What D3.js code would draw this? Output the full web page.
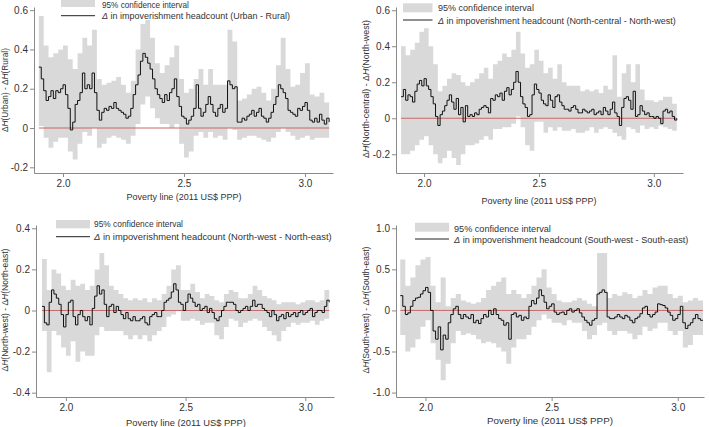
<!DOCTYPE html>
<html><head><meta charset="utf-8">
<script src="https://cdn.jsdelivr.net/npm/d3@7"></script>
<style>
body{margin:0;background:#fff}
text{font-family:"Liberation Sans",Arial,Helvetica,sans-serif}
</style>
</head><body>
<svg id="c" width="709" height="427"></svg>
<script>
// ---- data ----
const lineX = d3.range(121).map(i => +(1.90 + i * 0.01).toFixed(2));
const bandX = d3.range(61).map(i => +(1.90 + i * 0.02).toFixed(2));
const xTicks = [2.0, 2.5, 3.0];
const yTicksA = [-0.2, 0, 0.2, 0.4, 0.6];
const yTicksB = [-0.4, -0.2, 0, 0.2, 0.4];
const yTicksC = [-1.0, -0.5, 0, 0.5, 1.0];

const diffUR = [0.31,0.25,0.19,0.14,0.16,0.19,0.15,0.19,0.18,0.20,
0.22,0.17,0.10,-0.01,0.03,0.12,0.14,0.18,0.28,0.20,
0.22,0.20,0.28,0.18,0.09,0.04,0.08,0.10,0.09,0.11,
0.10,0.13,0.10,0.09,0.08,0.07,0.05,0.06,0.10,0.17,
0.22,0.27,0.34,0.38,0.36,0.33,0.30,0.25,0.20,0.17,
0.15,0.13,0.17,0.14,0.18,0.20,0.25,0.16,0.11,0.06,
0.05,0.02,0.04,0.06,0.10,0.22,0.10,0.06,0.08,0.12,
0.16,0.12,0.08,0.06,0.10,0.12,0.08,0.10,0.24,0.22,
0.20,0.21,0.03,0.03,0.05,0.04,0.06,0.07,0.09,0.06,
0.08,0.10,0.06,0.05,0.03,0.05,0.08,0.12,0.16,0.22,
0.20,0.18,0.15,0.09,0.08,0.07,0.06,0.10,0.09,0.11,
0.13,0.09,0.04,0.03,0.05,0.03,0.07,0.04,0.02,0.05,
0.03];
const hiUR = [0.57,0.42,0.36,0.38,0.40,0.42,0.35,0.30,0.38,0.46,
0.42,0.50,0.25,0.22,0.23,0.24,0.26,0.22,0.18,0.24,
0.40,0.53,0.55,0.46,0.33,0.28,0.32,0.36,0.42,0.25,
0.18,0.20,0.25,0.30,0.22,0.30,0.22,0.22,0.22,0.50,
0.44,0.14,0.15,0.17,0.20,0.21,0.18,0.14,0.20,0.32,
0.46,0.30,0.21,0.22,0.28,0.33,0.17,0.16,0.18,0.13,
0.12];
const loUR = [0.01,-0.05,-0.10,-0.07,-0.05,-0.05,-0.12,-0.16,-0.08,-0.02,
-0.04,0.00,-0.10,-0.08,-0.05,-0.04,-0.05,-0.06,-0.08,-0.04,
0.02,0.12,0.16,0.10,0.05,0.02,0.02,0.00,0.02,-0.08,
-0.15,-0.12,-0.04,-0.02,-0.05,-0.02,-0.05,-0.04,-0.06,0.00,
-0.01,-0.06,-0.05,-0.04,-0.04,-0.05,-0.06,-0.07,-0.05,-0.02,
0.00,-0.02,-0.04,-0.06,-0.05,-0.04,-0.06,-0.05,-0.05,-0.05,
-0.04];

const diffNC = [0.12,0.16,0.10,0.13,0.12,0.09,0.15,0.19,0.21,0.18,
0.22,0.18,0.16,0.12,0.08,0.01,-0.04,0.02,0.04,0.07,
0.10,0.13,0.09,0.05,0.11,0.02,0.06,-0.02,0.07,0.01,
0.02,0.01,0.03,0.02,0.05,0.06,0.07,0.06,0.03,0.11,
0.10,0.13,0.12,0.14,0.10,0.15,0.17,0.13,0.16,0.20,
0.26,0.20,0.12,0.08,0.06,0.01,0.02,0.13,0.19,0.16,
0.14,0.10,0.08,0.07,0.13,0.10,0.06,0.12,0.13,0.09,
0.07,0.05,0.05,0.04,0.06,0.07,0.05,0.03,0.03,0.05,
0.04,0.03,0.04,0.05,0.02,0.03,0.04,0.02,0.06,0.04,
0.02,0.05,0.09,0.03,0.01,-0.04,0.06,0.11,0.12,0.10,
0.05,0.15,0.01,0.02,0.07,0.04,0.02,0.03,0.01,0.01,
0.00,0.01,0.00,-0.03,0.04,0.05,0.03,0.04,0.01,-0.01,
0.00];
const hiNC = [0.40,0.35,0.38,0.42,0.48,0.50,0.40,0.30,0.15,0.18,
0.22,0.25,0.24,0.20,0.18,0.20,0.22,0.25,0.28,0.22,
0.30,0.32,0.36,0.34,0.38,0.48,0.36,0.28,0.30,0.38,
0.32,0.25,0.28,0.22,0.30,0.20,0.18,0.18,0.18,0.15,
0.16,0.15,0.16,0.14,0.18,0.16,0.35,0.12,0.25,0.30,
0.20,0.30,0.16,0.10,0.10,0.09,0.10,0.12,0.12,0.08,
0.07];
const loNC = [-0.20,-0.20,-0.18,-0.15,-0.12,-0.10,-0.15,-0.20,-0.25,-0.22,
-0.18,-0.22,-0.26,-0.20,-0.15,-0.15,-0.14,-0.12,-0.10,-0.12,
-0.06,-0.06,-0.05,-0.05,-0.03,0.01,-0.05,-0.15,-0.18,-0.02,
-0.02,-0.08,-0.05,-0.07,-0.05,-0.07,-0.07,-0.06,-0.08,-0.08,
-0.07,-0.05,-0.08,-0.06,-0.05,-0.06,-0.08,-0.10,-0.12,-0.05,
-0.06,-0.08,-0.04,-0.06,-0.05,-0.06,-0.04,-0.05,-0.06,-0.07,
-0.08];

const diffNW = [0.02,-0.06,-0.07,0.04,0.10,0.08,0.06,0.03,-0.02,-0.08,
-0.02,0.04,0.05,-0.03,-0.07,-0.02,0.00,-0.03,-0.05,-0.03,
-0.07,0.01,0.07,0.12,0.08,0.10,0.03,-0.03,0.02,0.03,
-0.01,0.02,0.00,-0.02,-0.04,-0.01,-0.04,-0.05,-0.03,-0.05,
-0.05,-0.04,-0.03,-0.06,-0.07,-0.03,-0.02,-0.01,-0.03,-0.03,
0.00,0.04,0.05,0.06,0.09,0.13,0.10,0.04,0.03,0.00,
0.04,0.08,0.06,0.04,0.02,0.03,0.00,0.01,0.02,-0.01,
0.01,-0.01,-0.04,-0.05,-0.03,0.00,0.02,0.04,0.04,0.04,
0.03,0.00,-0.01,0.00,0.01,0.02,0.00,0.02,0.05,0.02,
0.03,0.03,0.01,0.00,-0.01,-0.03,0.00,-0.02,-0.05,-0.03,
-0.02,-0.04,-0.01,-0.03,-0.02,-0.01,-0.03,-0.01,0.00,-0.02,
-0.01,0.00,0.01,-0.03,-0.01,0.00,0.00,-0.01,0.02,0.05,
0.04];
const hiNW = [0.25,0.10,0.20,0.18,0.12,0.10,0.15,0.12,0.13,0.10,
0.12,0.20,0.28,0.22,0.12,0.10,0.08,0.06,0.05,0.06,
0.05,0.06,0.04,0.06,0.05,0.08,0.12,0.20,0.22,0.10,
0.10,0.13,0.09,0.06,0.08,0.07,0.05,0.04,0.08,0.10,
0.09,0.06,0.06,0.08,0.12,0.10,0.07,0.06,0.05,0.03,
0.04,0.04,0.04,0.03,0.04,0.05,0.05,0.04,0.05,0.10,
0.08];
const loNW = [-0.10,-0.30,-0.10,-0.12,-0.18,-0.22,-0.15,-0.25,-0.20,-0.22,
-0.22,-0.12,-0.08,-0.10,-0.10,-0.10,-0.10,-0.12,-0.14,-0.12,
-0.14,-0.12,-0.15,-0.12,-0.10,-0.08,-0.03,-0.02,0.00,-0.05,
-0.05,-0.04,-0.05,-0.07,-0.06,-0.06,-0.12,-0.14,-0.08,-0.04,
-0.05,-0.08,-0.06,-0.05,-0.04,-0.05,-0.08,-0.10,-0.12,-0.15,
-0.10,-0.08,-0.06,-0.07,-0.06,-0.06,-0.05,-0.07,-0.05,-0.04,
-0.02];

const diffSW = [0.18,0.05,-0.05,-0.03,0.05,0.12,0.15,0.16,0.20,0.24,
0.28,0.22,0.00,-0.25,-0.35,-0.20,-0.48,-0.30,-0.35,-0.15,
-0.05,0.02,0.05,-0.05,-0.10,-0.05,-0.08,-0.10,-0.05,-0.15,
-0.12,-0.16,-0.10,-0.05,-0.08,0.00,-0.05,0.02,-0.05,-0.10,
-0.12,-0.18,-0.15,-0.35,-0.05,-0.03,-0.08,-0.06,-0.12,-0.08,
-0.10,0.05,0.12,0.08,0.15,0.25,0.18,0.10,0.02,0.05,
0.08,-0.02,-0.05,-0.03,-0.02,-0.05,0.00,0.02,-0.02,0.00,
0.02,-0.03,-0.08,-0.12,-0.15,-0.18,-0.12,-0.10,0.20,0.22,
0.25,0.22,-0.08,-0.10,-0.10,-0.08,-0.05,-0.08,-0.10,-0.06,
-0.08,-0.12,-0.15,-0.10,-0.08,-0.04,0.03,0.05,-0.05,-0.08,
-0.05,-0.02,0.08,0.07,0.06,0.03,-0.02,-0.06,-0.12,-0.10,
-0.05,0.05,-0.15,-0.22,-0.18,-0.15,-0.10,-0.05,-0.10,-0.12,
-0.12];
const hiSW = [0.62,0.30,0.40,0.55,0.62,0.65,0.30,0.10,0.40,0.05,
0.15,0.20,0.12,0.10,0.08,0.10,0.15,0.25,0.30,0.35,
0.40,0.20,0.25,0.20,0.15,0.20,0.30,0.40,0.50,0.28,
0.20,0.12,0.10,0.10,0.12,0.15,0.12,0.08,0.05,0.70,
0.70,0.15,0.20,0.18,0.22,0.20,0.15,0.18,0.25,0.20,
0.28,0.30,0.30,0.20,0.15,0.18,0.10,0.12,0.15,0.12,
0.08];
const loSW = [-0.30,-0.50,-0.45,-0.35,-0.20,-0.12,-0.40,-0.60,-0.85,-0.65,
-0.40,-0.25,-0.30,-0.28,-0.30,-0.35,-0.40,-0.38,-0.40,-0.45,
-0.50,-0.65,-0.45,-0.35,-0.35,-0.30,-0.20,-0.12,-0.05,-0.10,
-0.15,-0.15,-0.18,-0.12,-0.15,-0.15,-0.25,-0.35,-0.30,-0.18,
-0.15,-0.25,-0.30,-0.25,-0.25,-0.28,-0.35,-0.30,-0.20,-0.25,
-0.22,-0.15,-0.15,-0.25,-0.30,-0.25,-0.45,-0.42,-0.30,-0.30,
-0.28];

// ---- layout ----
const panels = [
  {line: diffUR, lo: loUR, hi: hiUR, a: 'Urban', b: 'Rural',
   xd: [1.88, 3.116], xr: [34, 333], yd: [-0.229, 0.616], yr: [173, 7], yTicks: yTicksA,
   yt: {x: 5, y: 90, w: 84}, xt: {x: 184, y: 199.5, w: 115},
   lg: {rx: 61, rw: 34, ry: -1.5, rh: 8.5, tx: 102, t1: 8.2, ly: 15.7, t2: 19.2, w1: 87, w2: 188}},
  {line: diffNC, lo: loNC, hi: hiNC, a: 'North-central', b: 'North-west',
   xd: [1.878, 3.127], xr: [396, 683], yd: [-0.304, 0.618], yr: [173, 7], yTicks: yTicksA,
   yt: {x: 366, y: 89, w: 138}, xt: {x: 539, y: 203.5, w: 115},
   lg: {rx: 403, rw: 29.5, ry: 3.3, rh: 9, tx: 438, t1: 10.8, ly: 20, t2: 23.5, w1: 96, w2: 238}},
  {line: diffNW, lo: loNW, hi: hiNW, a: 'North-west', b: 'North-east',
   xd: [1.875, 3.12], xr: [36, 334], yd: [-0.421, 0.416], yr: [397, 225], yTicks: yTicksB,
   yt: {x: 5.5, y: 310, w: 123}, xt: {x: 186, y: 425.5, w: 120},
   lg: {rx: 56, rw: 34, ry: 220, rh: 8.3, tx: 94, t1: 226.8, ly: 236.7, t2: 240.2, w1: 89, w2: 238}},
  {line: diffSW, lo: loSW, hi: hiSW, a: 'South-west', b: 'South-east',
   xd: [1.883, 3.104], xr: [396, 704], yd: [-1.054, 1.04], yr: [397, 225], yTicks: yTicksC,
   yt: {x: 366, y: 310, w: 127}, xt: {x: 550, y: 423.5, w: 126},
   lg: {rx: 415, rw: 34, ry: 222.7, rh: 9, tx: 454, t1: 231.8, ly: 239, t2: 242.5, w1: 97, w2: 235}}
];

const BAND = '#d9d9d9', AXIS = '#8a8a8a', TXT = '#333', ZERO = '#c8686a';
const svg = d3.select('#c');

function fit(sel, w) {
  const n = sel.node();
  const cur = parseFloat(sel.attr('font-size'));
  const len = n.getComputedTextLength();
  if (len > 0) sel.attr('font-size', (cur * w / len).toFixed(2));
}
function fmt(v) { return v === 0 ? '0' : v.toFixed(1); }

panels.forEach(p => {
  const x = d3.scaleLinear().domain(p.xd).range(p.xr);
  const y = d3.scaleLinear().domain(p.yd).range(p.yr);
  const g = svg.append('g');

  const bandData = bandX.map((v, i) => ({x: v, lo: p.lo[i], hi: p.hi[i]}));
  g.append('path').datum(bandData)
    .attr('fill', BAND)
    .attr('d', d3.area().curve(d3.curveStepAfter)
      .x(d => x(d.x)).y0(d => y(d.lo)).y1(d => y(d.hi)));

  g.append('line')
    .attr('x1', x(lineX[0])).attr('x2', x(lineX[lineX.length - 1]))
    .attr('y1', y(0)).attr('y2', y(0))
    .attr('stroke', ZERO).attr('stroke-width', 1);

  const lineData = lineX.map((v, i) => ({x: v, y: p.line[i]}));
  g.append('path').datum(lineData)
    .attr('fill', 'none').attr('stroke', '#111').attr('stroke-width', 1)
    .attr('d', d3.line().curve(d3.curveStepAfter).x(d => x(d.x)).y(d => y(d.y)));

  const ya = g.append('g').attr('transform', `translate(${p.xr[0]},0)`)
    .call(d3.axisLeft(y).tickValues(p.yTicks).tickFormat(fmt).tickSize(4).tickSizeOuter(0).tickPadding(2));
  const xa = g.append('g').attr('transform', `translate(0,${p.yr[0]})`)
    .call(d3.axisBottom(x).tickValues(xTicks).tickFormat(d => d.toFixed(1)).tickSize(4).tickSizeOuter(0).tickPadding(3));
  [ya, xa].forEach(a => {
    a.select('.domain').attr('stroke', AXIS);
    a.selectAll('.tick line').attr('stroke', AXIS);
    a.selectAll('.tick text').attr('fill', TXT).attr('font-size', 10)
      .attr('font-family', '"Liberation Sans",Arial,sans-serif');
  });

  const xt = g.append('text').attr('x', p.xt.x).attr('y', p.xt.y)
    .attr('text-anchor', 'middle').attr('fill', TXT).attr('font-size', 10)
    .text('Poverty line (2011 US$ PPP)');
  fit(xt, p.xt.w);

  const yt = g.append('text')
    .attr('transform', `translate(${p.yt.x},${p.yt.y}) rotate(-90)`)
    .attr('text-anchor', 'middle').attr('dy', '0.35em').attr('fill', TXT).attr('font-size', 10);
  yt.append('tspan').text('Δ');
  yt.append('tspan').attr('font-style', 'italic').text('H');
  yt.append('tspan').text(`(${p.a}) - Δ`);
  yt.append('tspan').attr('font-style', 'italic').text('H');
  yt.append('tspan').text(`(${p.b})`);
  fit(yt, p.yt.w);

  const L = p.lg;
  g.append('rect').attr('x', L.rx).attr('y', L.ry).attr('width', L.rw).attr('height', L.rh).attr('fill', BAND);
  g.append('line').attr('x1', L.rx).attr('x2', L.rx + L.rw).attr('y1', L.ly).attr('y2', L.ly)
    .attr('stroke', '#222').attr('stroke-width', 1);
  const t1 = g.append('text').attr('x', L.tx).attr('y', L.t1).attr('fill', TXT).attr('font-size', 10)
    .text('95% confidence interval');
  fit(t1, L.w1);
  const t2 = g.append('text').attr('x', L.tx).attr('y', L.t2).attr('fill', TXT).attr('font-size', 10);
  t2.append('tspan').attr('font-style', 'italic').text('Δ');
  t2.append('tspan').text(` in impoverishment headcount (${p.a} - ${p.b})`);
  fit(t2, L.w2);
});
</script>
</body></html>
